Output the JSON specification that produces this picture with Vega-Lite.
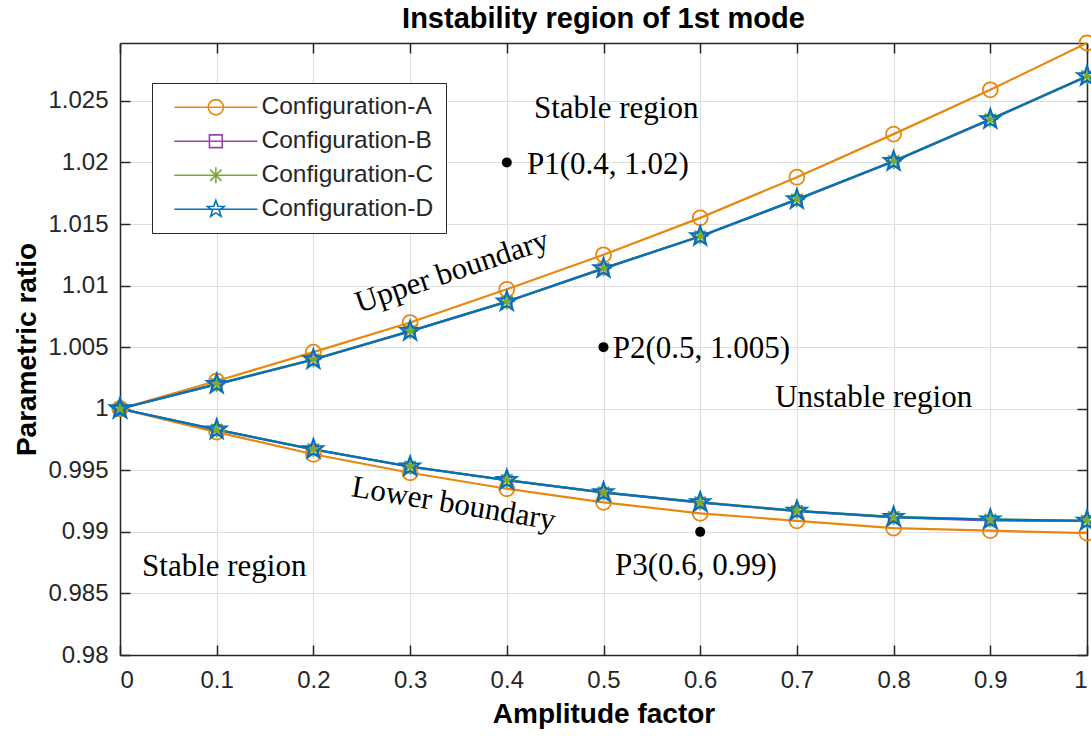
{
  "$schema": "https://vega.github.io/schema/vega-lite/v6.json",
  "width": 967,
  "height": 612,
  "autosize": {"type": "none"},
  "padding": {"left": 120, "top": 43, "right": 4, "bottom": 81},
  "background": "white",
  "title": {"text": "Instability region of 1st mode", "font": "Liberation Sans", "fontSize": 29, "fontWeight": "bold", "color": "#000000", "anchor": "middle", "baseline": "alphabetic", "offset": -25},
  "datasets": {
    "curves": [
      {"x": 0, "y": 1, "config": "Configuration-A", "branch": "upper"},
      {"x": 0.1, "y": 1.00225, "config": "Configuration-A", "branch": "upper"},
      {"x": 0.2, "y": 1.0046, "config": "Configuration-A", "branch": "upper"},
      {"x": 0.3, "y": 1.007, "config": "Configuration-A", "branch": "upper"},
      {"x": 0.4, "y": 1.0097, "config": "Configuration-A", "branch": "upper"},
      {"x": 0.5, "y": 1.0125, "config": "Configuration-A", "branch": "upper"},
      {"x": 0.6, "y": 1.0155, "config": "Configuration-A", "branch": "upper"},
      {"x": 0.7, "y": 1.0188, "config": "Configuration-A", "branch": "upper"},
      {"x": 0.8, "y": 1.0223, "config": "Configuration-A", "branch": "upper"},
      {"x": 0.9, "y": 1.0259, "config": "Configuration-A", "branch": "upper"},
      {"x": 1.0, "y": 1.0297, "config": "Configuration-A", "branch": "upper"},
      {"x": 0, "y": 1, "config": "Configuration-A", "branch": "lower"},
      {"x": 0.1, "y": 0.9981, "config": "Configuration-A", "branch": "lower"},
      {"x": 0.2, "y": 0.9963, "config": "Configuration-A", "branch": "lower"},
      {"x": 0.3, "y": 0.9948, "config": "Configuration-A", "branch": "lower"},
      {"x": 0.4, "y": 0.9935, "config": "Configuration-A", "branch": "lower"},
      {"x": 0.5, "y": 0.9924, "config": "Configuration-A", "branch": "lower"},
      {"x": 0.6, "y": 0.9915, "config": "Configuration-A", "branch": "lower"},
      {"x": 0.7, "y": 0.9909, "config": "Configuration-A", "branch": "lower"},
      {"x": 0.8, "y": 0.9903, "config": "Configuration-A", "branch": "lower"},
      {"x": 0.9, "y": 0.9901, "config": "Configuration-A", "branch": "lower"},
      {"x": 1.0, "y": 0.9899, "config": "Configuration-A", "branch": "lower"},
      {"x": 0, "y": 1, "config": "Configuration-B", "branch": "upper"},
      {"x": 0.1, "y": 1.00198, "config": "Configuration-B", "branch": "upper"},
      {"x": 0.2, "y": 1.00398, "config": "Configuration-B", "branch": "upper"},
      {"x": 0.3, "y": 1.00628, "config": "Configuration-B", "branch": "upper"},
      {"x": 0.4, "y": 1.00868, "config": "Configuration-B", "branch": "upper"},
      {"x": 0.5, "y": 1.01138, "config": "Configuration-B", "branch": "upper"},
      {"x": 0.6, "y": 1.01398, "config": "Configuration-B", "branch": "upper"},
      {"x": 0.7, "y": 1.01697, "config": "Configuration-B", "branch": "upper"},
      {"x": 0.8, "y": 1.02007, "config": "Configuration-B", "branch": "upper"},
      {"x": 0.9, "y": 1.02347, "config": "Configuration-B", "branch": "upper"},
      {"x": 1.0, "y": 1.02697, "config": "Configuration-B", "branch": "upper"},
      {"x": 0, "y": 1, "config": "Configuration-B", "branch": "lower"},
      {"x": 0.1, "y": 0.99829, "config": "Configuration-B", "branch": "lower"},
      {"x": 0.2, "y": 0.99669, "config": "Configuration-B", "branch": "lower"},
      {"x": 0.3, "y": 0.99529, "config": "Configuration-B", "branch": "lower"},
      {"x": 0.4, "y": 0.99419, "config": "Configuration-B", "branch": "lower"},
      {"x": 0.5, "y": 0.99318, "config": "Configuration-B", "branch": "lower"},
      {"x": 0.6, "y": 0.99238, "config": "Configuration-B", "branch": "lower"},
      {"x": 0.7, "y": 0.99168, "config": "Configuration-B", "branch": "lower"},
      {"x": 0.8, "y": 0.99118, "config": "Configuration-B", "branch": "lower"},
      {"x": 0.9, "y": 0.99093, "config": "Configuration-B", "branch": "lower"},
      {"x": 1.0, "y": 0.99088, "config": "Configuration-B", "branch": "lower"},
      {"x": 0, "y": 1, "config": "Configuration-C", "branch": "upper"},
      {"x": 0.1, "y": 1.00201, "config": "Configuration-C", "branch": "upper"},
      {"x": 0.2, "y": 1.00401, "config": "Configuration-C", "branch": "upper"},
      {"x": 0.3, "y": 1.00631, "config": "Configuration-C", "branch": "upper"},
      {"x": 0.4, "y": 1.00871, "config": "Configuration-C", "branch": "upper"},
      {"x": 0.5, "y": 1.01141, "config": "Configuration-C", "branch": "upper"},
      {"x": 0.6, "y": 1.01401, "config": "Configuration-C", "branch": "upper"},
      {"x": 0.7, "y": 1.01701, "config": "Configuration-C", "branch": "upper"},
      {"x": 0.8, "y": 1.02011, "config": "Configuration-C", "branch": "upper"},
      {"x": 0.9, "y": 1.02351, "config": "Configuration-C", "branch": "upper"},
      {"x": 1.0, "y": 1.02701, "config": "Configuration-C", "branch": "upper"},
      {"x": 0, "y": 1, "config": "Configuration-C", "branch": "lower"},
      {"x": 0.1, "y": 0.99831, "config": "Configuration-C", "branch": "lower"},
      {"x": 0.2, "y": 0.99671, "config": "Configuration-C", "branch": "lower"},
      {"x": 0.3, "y": 0.99531, "config": "Configuration-C", "branch": "lower"},
      {"x": 0.4, "y": 0.99421, "config": "Configuration-C", "branch": "lower"},
      {"x": 0.5, "y": 0.99321, "config": "Configuration-C", "branch": "lower"},
      {"x": 0.6, "y": 0.99241, "config": "Configuration-C", "branch": "lower"},
      {"x": 0.7, "y": 0.99171, "config": "Configuration-C", "branch": "lower"},
      {"x": 0.8, "y": 0.99121, "config": "Configuration-C", "branch": "lower"},
      {"x": 0.9, "y": 0.99101, "config": "Configuration-C", "branch": "lower"},
      {"x": 1.0, "y": 0.99091, "config": "Configuration-C", "branch": "lower"},
      {"x": 0, "y": 1, "config": "Configuration-D", "branch": "upper"},
      {"x": 0.1, "y": 1.002, "config": "Configuration-D", "branch": "upper"},
      {"x": 0.2, "y": 1.004, "config": "Configuration-D", "branch": "upper"},
      {"x": 0.3, "y": 1.0063, "config": "Configuration-D", "branch": "upper"},
      {"x": 0.4, "y": 1.0087, "config": "Configuration-D", "branch": "upper"},
      {"x": 0.5, "y": 1.0114, "config": "Configuration-D", "branch": "upper"},
      {"x": 0.6, "y": 1.014, "config": "Configuration-D", "branch": "upper"},
      {"x": 0.7, "y": 1.017, "config": "Configuration-D", "branch": "upper"},
      {"x": 0.8, "y": 1.0201, "config": "Configuration-D", "branch": "upper"},
      {"x": 0.9, "y": 1.0235, "config": "Configuration-D", "branch": "upper"},
      {"x": 1.0, "y": 1.027, "config": "Configuration-D", "branch": "upper"},
      {"x": 0, "y": 1, "config": "Configuration-D", "branch": "lower"},
      {"x": 0.1, "y": 0.9983, "config": "Configuration-D", "branch": "lower"},
      {"x": 0.2, "y": 0.9967, "config": "Configuration-D", "branch": "lower"},
      {"x": 0.3, "y": 0.9953, "config": "Configuration-D", "branch": "lower"},
      {"x": 0.4, "y": 0.9942, "config": "Configuration-D", "branch": "lower"},
      {"x": 0.5, "y": 0.9932, "config": "Configuration-D", "branch": "lower"},
      {"x": 0.6, "y": 0.9924, "config": "Configuration-D", "branch": "lower"},
      {"x": 0.7, "y": 0.9917, "config": "Configuration-D", "branch": "lower"},
      {"x": 0.8, "y": 0.9912, "config": "Configuration-D", "branch": "lower"},
      {"x": 0.9, "y": 0.991, "config": "Configuration-D", "branch": "lower"},
      {"x": 1.0, "y": 0.9909, "config": "Configuration-D", "branch": "lower"}
    ],
    "dots": [
      {"x": 0.4, "y": 1.02},
      {"x": 0.5, "y": 1.005},
      {"x": 0.6, "y": 0.99}
    ],
    "notes": [
      {"x": 0.4281, "y": 1.02357, "t": "Stable region"},
      {"x": 0.4209, "y": 1.01906, "t": "P1(0.4, 1.02)"},
      {"x": 0.5095, "y": 1.00412, "t": "P2(0.5, 1.005)"},
      {"x": 0.6774, "y": 1.00014, "t": "Unstable region"},
      {"x": 0.5119, "y": 0.9865, "t": "P3(0.6, 0.99)"},
      {"x": 0.0228, "y": 0.98644, "t": "Stable region"}
    ],
    "upperNote": [{"x": 0.3464, "y": 1.01041, "t": "Upper boundary"}],
    "lowerNote": [{"x": 0.3433, "y": 0.99153, "t": "Lower boundary"}]
  },
  "layer": [
    {
      "data": {"name": "curves"},
      "mark": {"type": "line", "strokeWidth": 2.2},
      "encoding": {
        "x": {"field": "x", "type": "quantitative", "scale": {"domain": [0, 1], "nice": false, "zero": false},
              "axis": {"orient": "bottom", "values": [0, 0.1, 0.2, 0.3, 0.4, 0.5, 0.6, 0.7, 0.8, 0.9, 1], "format": "~g", "title": "Amplitude factor", "grid": true, "labelPadding": 23, "titlePadding": 8}},
        "y": {"field": "y", "type": "quantitative", "scale": {"domain": [0.98, 1.0297], "nice": false, "zero": false},
              "axis": {"orient": "left", "values": [0.98, 0.985, 0.99, 0.995, 1, 1.005, 1.01, 1.015, 1.02, 1.025], "format": "~g", "title": "Parametric ratio", "grid": true, "labelPadding": 22, "titlePadding": 6}},
        "color": {"field": "config", "type": "nominal", "scale": {"domain": ["Configuration-A", "Configuration-B", "Configuration-C", "Configuration-D"], "range": ["#E8870E", "#9B40B0", "#77AC30", "#0072BD"]},
                  "legend": {"orient": "none", "legendX": 32, "legendY": 40, "title": null, "fillColor": "white", "strokeColor": "#262626", "padding": 12, "labelFont": "Liberation Sans", "labelFontSize": 24.5, "labelLimit": 400, "labelColor": "#262626", "symbolSize": 256, "symbolStrokeWidth": 1.6, "symbolOffset": 6, "labelOffset": 67, "rowPadding": 9,
                             "encode": {"symbols": {"update": {"fill": {"value": "transparent"}, "shape": {"signal": "datum.value === 'Configuration-A' ? 'M-1,0H9.4M3.25,0A0.95,0.95 0 1,0 5.15,0A0.95,0.95 0 1,0 3.25,0' : datum.value === 'Configuration-B' ? 'M-1,0H9.4M3.4,-0.8H5V0.8H3.4Z' : datum.value === 'Configuration-C' ? 'M-1,0H9.4M4.2,-1V1M3.5,-0.7L4.9,0.7M3.5,0.7L4.9,-0.7' : 'M-1,0H9.4M4.2,-1.1L4.465,-0.364L5.246,-0.34L4.628,0.139L4.847,0.89L4.2,0.45L3.553,0.89L3.772,0.139L3.154,-0.34L3.935,-0.364Z'"}}}}}},
        "detail": {"field": "branch"}
      }
    },
    {
      "data": {"name": "curves"},
      "transform": [{"filter": "datum.config === 'Configuration-A'"}],
      "mark": {"type": "point", "filled": false, "strokeWidth": 1.8, "opacity": 1, "shape": "circle", "size": 225},
      "encoding": {
        "x": {"field": "x", "type": "quantitative", "axis": {"orient": "top", "labels": false, "grid": false, "title": null, "values": [0, 0.1, 0.2, 0.3, 0.4, 0.5, 0.6, 0.7, 0.8, 0.9, 1]}},
        "y": {"field": "y", "type": "quantitative", "axis": {"orient": "right", "labels": false, "grid": false, "title": null, "values": [0.98, 0.985, 0.99, 0.995, 1, 1.005, 1.01, 1.015, 1.02, 1.025]}},
        "color": {"field": "config", "type": "nominal", "legend": null}
      }
    },
    {
      "data": {"name": "curves"},
      "transform": [{"filter": "datum.config === 'Configuration-B'"}],
      "mark": {"type": "point", "filled": false, "strokeWidth": 1.8, "opacity": 1, "shape": "square", "size": 95},
      "encoding": {
        "x": {"field": "x", "type": "quantitative", "axis": null},
        "y": {"field": "y", "type": "quantitative", "axis": null},
        "color": {"field": "config", "type": "nominal", "legend": null}
      }
    },
    {
      "data": {"name": "curves"},
      "transform": [{"filter": "datum.config === 'Configuration-C'"}],
      "mark": {"type": "point", "filled": false, "strokeWidth": 1.8, "opacity": 1, "shape": "M-1,0H1M0,-1V1M-0.7,-0.7L0.7,0.7M-0.7,0.7L0.7,-0.7", "size": 260},
      "encoding": {
        "x": {"field": "x", "type": "quantitative", "axis": null},
        "y": {"field": "y", "type": "quantitative", "axis": null},
        "color": {"field": "config", "type": "nominal", "legend": null}
      }
    },
    {
      "data": {"name": "curves"},
      "transform": [{"filter": "datum.config === 'Configuration-D'"}],
      "mark": {"type": "point", "filled": false, "strokeWidth": 2, "opacity": 1, "shape": "M0,-1L0.235,-0.324L0.951,-0.309L0.38,0.124L0.588,0.809L0,0.4L-0.588,0.809L-0.38,0.124L-0.951,-0.309L-0.235,-0.324Z", "size": 420},
      "encoding": {
        "x": {"field": "x", "type": "quantitative", "axis": null},
        "y": {"field": "y", "type": "quantitative", "axis": null},
        "color": {"field": "config", "type": "nominal", "legend": null}
      }
    },
    {
      "data": {"name": "dots"},
      "mark": {"type": "point", "filled": true, "color": "#000000", "size": 100, "opacity": 1},
      "encoding": {
        "x": {"field": "x", "type": "quantitative", "axis": null},
        "y": {"field": "y", "type": "quantitative", "axis": null}
      }
    },
    {
      "data": {"name": "notes"},
      "mark": {"type": "text", "font": "Liberation Serif", "fontSize": 31, "align": "left", "baseline": "alphabetic", "color": "#000000"},
      "encoding": {
        "x": {"field": "x", "type": "quantitative", "axis": null},
        "y": {"field": "y", "type": "quantitative", "axis": null},
        "text": {"field": "t"}
      }
    },
    {
      "data": {"name": "upperNote"},
      "mark": {"type": "text", "font": "Liberation Serif", "fontSize": 31, "align": "center", "baseline": "alphabetic", "angle": -18.7, "color": "#000000"},
      "encoding": {
        "x": {"field": "x", "type": "quantitative", "axis": null},
        "y": {"field": "y", "type": "quantitative", "axis": null},
        "text": {"field": "t"}
      }
    },
    {
      "data": {"name": "lowerNote"},
      "mark": {"type": "text", "font": "Liberation Serif", "fontSize": 31, "align": "center", "baseline": "alphabetic", "angle": 9.5, "color": "#000000"},
      "encoding": {
        "x": {"field": "x", "type": "quantitative", "axis": null},
        "y": {"field": "y", "type": "quantitative", "axis": null},
        "text": {"field": "t"}
      }
    }
  ],
  "resolve": {"axis": {"x": "independent", "y": "independent"}},
  "config": {
    "view": {"stroke": null},
    "axis": {"domainColor": "#262626", "domainWidth": 1.5, "tickColor": "#262626", "tickWidth": 1.5, "tickSize": -10, "gridColor": "#DFDFDF", "gridWidth": 1.2, "gridOpacity": 1, "labelFont": "Liberation Sans", "labelFontSize": 24, "labelColor": "#262626", "titleFont": "Liberation Sans", "titleFontSize": 28, "titleFontWeight": "bold", "titleColor": "#000000"}
  }
}
